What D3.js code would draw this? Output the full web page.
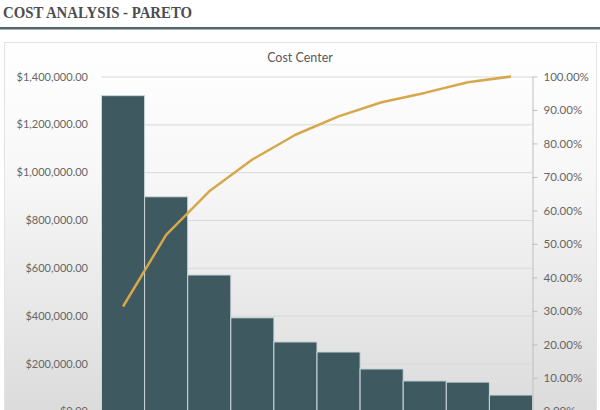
<!DOCTYPE html>
<html>
<head>
<meta charset="utf-8">
<script src="https://cdn.jsdelivr.net/npm/d3@7"></script>
<style>
  body { margin: 0; background: #fff; }
  svg { display: block; }
</style>
</head>
<body>
<svg id="chart" width="600" height="410"></svg>
<script>
// cost centers (labels fall below the visible area in the reference)
const centers = ['CC01', 'CC02', 'CC03', 'CC04', 'CC05', 'CC06', 'CC07', 'CC08', 'CC09', 'CC10'];
const costs = [1320000, 897000, 570000, 391000, 290000, 248000, 177000, 127000, 122000, 68000];
const cumulativePct = [31.3, 52.7, 65.7, 75.2, 82.6, 88.1, 92.3, 95.1, 98.3, 100];
const costTicks = [0, 200000, 400000, 600000, 800000, 1000000, 1200000, 1400000];
const pctTicks = [0, 10, 20, 30, 40, 50, 60, 70, 80, 90, 100];

const svg = d3.select('#chart');
const defs = svg.append('defs');

// soft white-to-grey fill behind the chart
const grad = defs.append('linearGradient')
    .attr('id', 'bg').attr('x1', 0).attr('y1', 0).attr('x2', 0).attr('y2', 1);
grad.append('stop').attr('offset', '0%').attr('stop-color', '#ffffff');
grad.append('stop').attr('offset', '35%').attr('stop-color', '#f7f7f7');
grad.append('stop').attr('offset', '100%').attr('stop-color', '#d9d9d9');

// page heading
svg.append('text')
    .attr('x', 3).attr('y', 18)
    .attr('font-family', 'Liberation Serif, serif')
    .attr('font-weight', 'bold')
    .attr('font-size', 16)
    .attr('fill', '#4d4d4d')
    .attr('textLength', 189)
    .attr('lengthAdjust', 'spacingAndGlyphs')
    .text('COST ANALYSIS - PARETO');

svg.append('rect')
    .attr('x', 0).attr('y', 27).attr('width', 600).attr('height', 2.5)
    .attr('fill', '#56666b');

// chart box
svg.append('rect')
    .attr('x', 4.5).attr('y', 42.5).attr('width', 592).attr('height', 390)
    .attr('fill', 'url(#bg)')
    .attr('stroke', '#e3e3e3');

svg.append('text')
    .attr('x', 300).attr('y', 62)
    .attr('text-anchor', 'middle')
    .attr('font-family', 'Lato, sans-serif')
    .attr('font-size', 12.5)
    .attr('fill', '#595959')
    .text('Cost Center');

const margin = {top: 76.5, left: 101.5, right: 532.5, bottom: 411.3};

const x = d3.scaleBand()
    .domain(centers)
    .range([margin.left, margin.right])
    .padding(0);

const yCost = d3.scaleLinear()
    .domain([0, 1400000])
    .range([margin.bottom, margin.top]);

const yPct = d3.scaleLinear()
    .domain([0, 100])
    .range([margin.bottom, margin.top]);

// horizontal gridlines
svg.append('g')
    .attr('transform', `translate(${margin.left},0)`)
    .call(d3.axisRight(yCost).tickValues(costTicks)
        .tickSize(margin.right - margin.left).tickFormat(''))
    .call(g => g.select('.domain').remove())
    .call(g => g.selectAll('line').attr('stroke', '#d9d9d9'));

// bars
svg.append('g').selectAll('rect')
    .data(costs)
    .join('rect')
    .attr('x', (d, i) => x(centers[i]))
    .attr('y', d => yCost(d))
    .attr('width', x.bandwidth())
    .attr('height', d => yCost(0) - yCost(d))
    .attr('fill', '#3e5960')
    .attr('stroke', '#cbd8db')
    .attr('stroke-width', 1);

// cumulative percentage line
const line = d3.line()
    .x((d, i) => x(centers[i]) + x.bandwidth() / 2)
    .y(d => yPct(d));

svg.append('path')
    .datum(cumulativePct)
    .attr('d', line)
    .attr('fill', 'none')
    .attr('stroke', '#d6a74b')
    .attr('stroke-width', 2.5)
    .attr('stroke-linejoin', 'round');

// left axis (labels only)
svg.append('g')
    .attr('transform', `translate(${margin.left - 10.5},0)`)
    .call(d3.axisLeft(yCost).tickValues(costTicks)
        .tickSize(0).tickFormat(d3.format('$,.2f')))
    .call(g => g.select('.domain').remove())
    .call(g => g.selectAll('text')
        .attr('font-family', 'Lato, sans-serif')
        .attr('font-size', 11)
        .attr('fill', '#666'));

// right axis with tick marks
svg.append('g')
    .attr('transform', `translate(${margin.right},0)`)
    .call(d3.axisRight(yPct).tickValues(pctTicks)
        .tickSize(5).tickSizeOuter(0).tickPadding(6)
        .tickFormat(d => d3.format('.2f')(d) + '%'))
    .call(g => g.select('.domain').attr('stroke', '#bfbfbf'))
    .call(g => g.selectAll('line').attr('stroke', '#bfbfbf'))
    .call(g => g.selectAll('text')
        .attr('font-family', 'Lato, sans-serif')
        .attr('font-size', 11.5)
        .attr('fill', '#666'));
</script>
</body>
</html>
